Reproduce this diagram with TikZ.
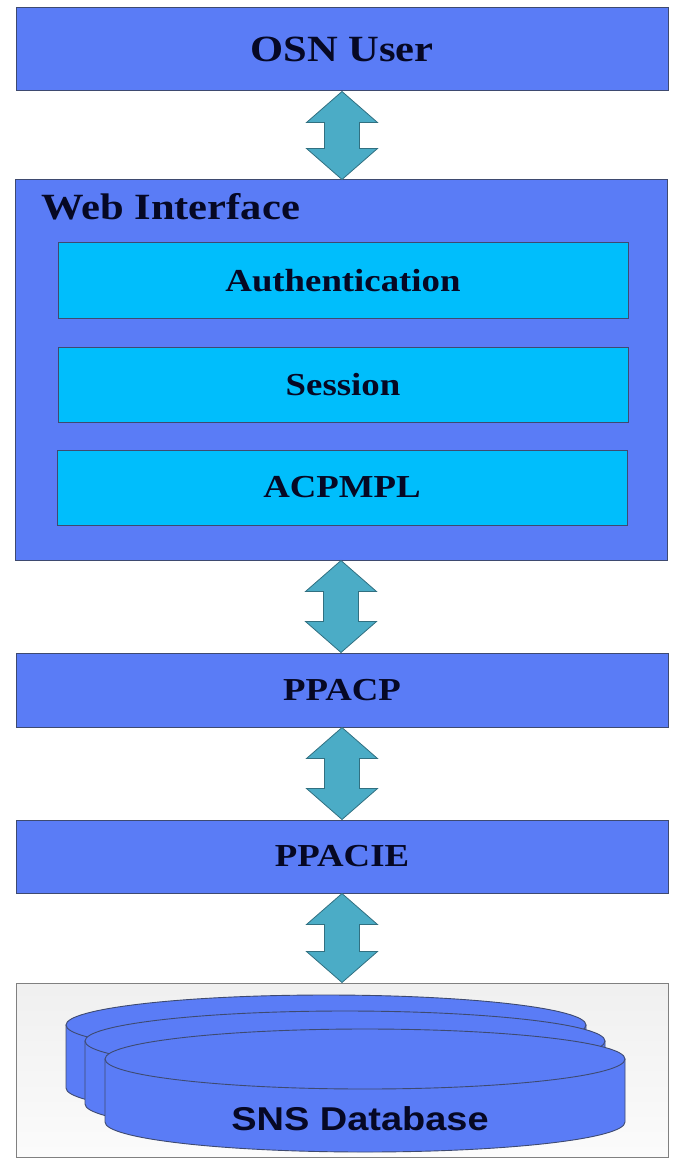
\documentclass[tikz,border=0pt]{standalone}
\usepackage{fontspec}
\setmainfont{Liberation Serif}[FakeStretch=1.15]
\newfontfamily\dbfont{Liberation Sans}[FakeStretch=1.15]
\usepackage{tikz}
\usetikzlibrary{calc}

\definecolor{layerblue}{RGB}{90,124,246}
\definecolor{modcyan}{RGB}{0,190,252}
\definecolor{flowteal}{RGB}{75,172,198}
\definecolor{edgegray}{RGB}{62,74,112}
\definecolor{inkblue}{RGB}{6,8,36}

% block arrow pointing both ways between two stacked nodes
\newcommand{\flowarrow}[2]{%
  \path[flow] let \p1=(#1.south), \p2=(#2.north) in
    (\x1,\y1) -- (\x1+35.5pt,\y1-31pt) -- (\x1+17.5pt,\y1-31pt)
    -- (\x1+17.5pt,\y2+31pt) -- (\x1+35.5pt,\y2+31pt) -- (\x1,\y2)
    -- (\x1-35.5pt,\y2+31pt) -- (\x1-17.5pt,\y2+31pt)
    -- (\x1-17.5pt,\y1-31pt) -- (\x1-35.5pt,\y1-31pt) -- cycle;}

% one disk of the database stack, (x,y) = centre of its top face
\newcommand{\dbdisk}[2]{%
  \filldraw[disk] (#1-260,#2) -- (#1-260,#2+63)
    arc[start angle=180, end angle=0, x radius=260, y radius=30]
    -- (#1+260,#2) -- cycle;
  \filldraw[disk] (#1,#2) ellipse[x radius=260, y radius=30];}

\begin{document}
\begin{tikzpicture}[x=1pt, y=-1pt,
  layer/.style={draw=edgegray, line width=1pt, fill=layerblue, inner sep=0pt,
    minimum width=652pt, text=inkblue, font=\fontsize{32}{38}\selectfont\bfseries},
  module/.style={draw=edgegray, line width=1pt, fill=modcyan, inner sep=0pt,
    minimum width=570pt, minimum height=75pt, text=inkblue,
    font=\fontsize{32}{38}\selectfont\bfseries},
  flow/.style={fill=flowteal, draw=flowteal!65!black, line width=0.8pt},
  disk/.style={fill=layerblue, draw=edgegray, line width=0.9pt}]
  \useasboundingbox (0,0) rectangle (674,1158);

  \node[layer, minimum height=83pt, font=\fontsize{37}{42}\selectfont\bfseries]
    (osn) at (342,49.5) {OSN User};

  \node[layer, minimum height=380pt] (web) at (341,370) {};
  \node[anchor=base west, inner sep=0pt, text=inkblue,
    font=\fontsize{37}{42}\selectfont\bfseries]
    (webtitle) at (41,220) {Web Interface};
  \node[module] (auth) at (343,280.5) {Authentication};
  \node[module] (sess) at (343,384.5) {Session};
  \node[module] (acp) at (342,487.5) {ACPMPL};

  \node[layer, minimum height=74pt] (ppacp) at (342,690) {PPACP};
  \node[layer, minimum height=73pt] (ppacie) at (342,856.5) {PPACIE};

  \node[draw=gray, line width=1pt, top color=gray!12, bottom color=gray!3,
    minimum width=652pt, minimum height=174pt, inner sep=0pt] (db) at (342,1070) {};
  \dbdisk{326}{1025}
  \dbdisk{345}{1041}
  \dbdisk{365}{1059}
  \node[text=inkblue, font=\dbfont\fontsize{33}{38}\selectfont\bfseries]
    (dblabel) at (360,1119) {SNS Database};

  \flowarrow{osn}{web}
  \flowarrow{web}{ppacp}
  \flowarrow{ppacp}{ppacie}
  \flowarrow{ppacie}{db}
\end{tikzpicture}
\end{document}
